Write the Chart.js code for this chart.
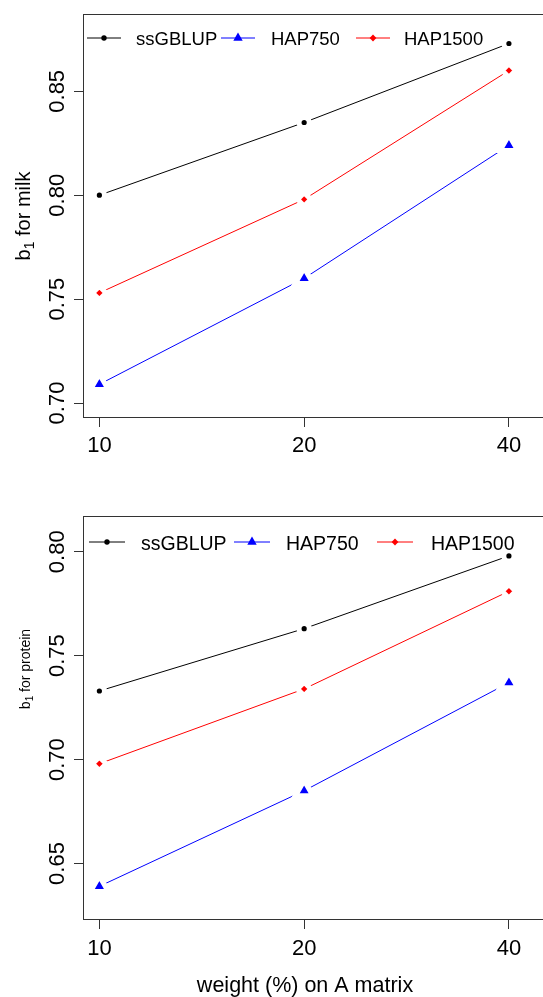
<!DOCTYPE html>
<html>
<head>
<meta charset="utf-8">
<script src="https://cdn.jsdelivr.net/npm/chart.js@4.4.1/dist/chart.umd.min.js"></script>
<style>
  html, body { margin: 0; padding: 0; background: #fff; }
  #wrap { position: relative; width: 543px; height: 997px; overflow: hidden; }
  #milkChart { position: absolute; left: 0; top: 0; }
  #proteinChart { position: absolute; left: 0; top: 490px; }
</style>
</head>
<body>
<div id="wrap">
  <canvas id="milkChart" width="560" height="490"></canvas>
  <canvas id="proteinChart" width="560" height="507"></canvas>
</div>
<script>
// data
const categories = ['10', '20', '40'];
const seriesNames = ['ssGBLUP', 'HAP750', 'HAP1500'];

const milkSsgblup = [0.800, 0.835, 0.873];
const milkHap750 = [0.709, 0.760, 0.824];
const milkHap1500 = [0.753, 0.798, 0.860];

const proteinSsgblup = [0.733, 0.763, 0.798];
const proteinHap750 = [0.639, 0.685, 0.737];
const proteinHap1500 = [0.698, 0.734, 0.781];

const milkTicks = [0.70, 0.75, 0.80, 0.85];
const proteinTicks = [0.65, 0.70, 0.75, 0.80];

const milkTitle = ['b', '1', ' for milk'];
const proteinTitle = ['b', '1', ' for protein'];
const xTitle = 'weight (%) on A matrix';

const FONT = '"Liberation Sans", Arial, Helvetica, sans-serif';
Chart.defaults.font.family = FONT;

// colour + marker per series (R: pch 20 / 17 / 18)
// the white border fakes the gap that type="b" leaves round each point
const styles = [
    { color: '#000000', pointStyle: 'circle', r: 5.15, bw: 5.1, legendR: 2.7 },
    { color: '#0000ff', pointStyle: 'triangle', r: 10.3, bw: 5.1, legendR: 5.4 },
    { color: '#ff0000', pointStyle: 'rectRot', r: 6.7, bw: 5.0, legendR: 3.4 }
];

function makeDatasets(values) {
    return values.map((vals, i) => ({
        label: seriesNames[i],
        data: vals.map((v, j) => ({ x: j, y: v })),
        borderColor: styles[i].color,
        borderWidth: 1,
        tension: 0,
        pointStyle: styles[i].pointStyle,
        pointRadius: styles[i].r,
        pointHoverRadius: styles[i].r,
        pointBackgroundColor: styles[i].color,
        pointBorderColor: '#ffffff',
        pointBorderWidth: styles[i].bw,
        legendR: styles[i].legendR
    }));
}

function drawMarker(ctx, style, r, x, y) {
    if (Chart.helpers && Chart.helpers.drawPoint) {
        Chart.helpers.drawPoint(ctx, { pointStyle: style, radius: r, borderWidth: 0, rotation: 0 }, x, y);
        return;
    }
    ctx.beginPath();
    ctx.arc(x, y, r, 0, Math.PI * 2);
    ctx.fill();
}

// box, rotated y labels, y title, R-style legend
const panelPlugin = {
    id: 'panel',
    beforeDatasetsDraw(chart) {
        const ctx = chart.ctx, a = chart.chartArea;
        ctx.save();
        ctx.strokeStyle = '#333';
        ctx.lineWidth = 1;
        ctx.strokeRect(Math.round(a.left) + 0.5, Math.round(a.top) + 0.5,
            Math.round(a.right - a.left), Math.round(a.bottom - a.top) - 1);
        ctx.restore();
    },
    afterDraw(chart, args, o) {
        const ctx = chart.ctx;
        const ys = chart.scales.y;
        ctx.save();
        ctx.fillStyle = '#000';

        // y tick labels, parallel to the axis
        ctx.font = '22px ' + FONT;
        ctx.textAlign = 'center';
        ctx.textBaseline = 'alphabetic';
        o.yTicks.forEach(v => {
            ctx.save();
            ctx.translate(64, ys.getPixelForValue(v));
            ctx.rotate(-Math.PI / 2);
            ctx.fillText(v.toFixed(2), 0, 0);
            ctx.restore();
        });

        // y title with subscript
        const fs = o.titleSize;
        const main = fs + 'px ' + FONT, small = Math.round(fs * 0.7) + 'px ' + FONT;
        ctx.font = main;
        const w0 = ctx.measureText(o.title[0]).width;
        const w2 = ctx.measureText(o.title[2]).width;
        ctx.font = small;
        const w1 = ctx.measureText(o.title[1]).width;
        const total = w0 + w1 + w2;
        ctx.save();
        ctx.translate(o.titleX, o.titleY);
        ctx.rotate(-Math.PI / 2);
        ctx.textAlign = 'left';
        let x = -total / 2;
        ctx.font = main;
        ctx.fillText(o.title[0], x, 0);
        x += w0;
        ctx.font = small;
        ctx.fillText(o.title[1], x, fs * 0.22);
        x += w1;
        ctx.font = main;
        ctx.fillText(o.title[2], x, 0);
        ctx.restore();

        // legend (line with marker in the middle, no frame)
        const lg = o.legend;
        ctx.font = lg.size + 'px ' + FONT;
        ctx.textAlign = 'left';
        chart.data.datasets.forEach((ds, i) => {
            const cx = lg.marks[i];
            ctx.strokeStyle = ds.borderColor;
            ctx.lineWidth = 1;
            ctx.beginPath();
            ctx.moveTo(cx - lg.half, lg.y);
            ctx.lineTo(cx + lg.half, lg.y);
            ctx.stroke();
            ctx.fillStyle = ds.borderColor;
            drawMarker(ctx, ds.pointStyle, ds.legendR, cx, lg.y);
            ctx.fillStyle = '#000';
            ctx.fillText(ds.label, lg.textX[i], lg.baseline);
        });

        // x title (bottom panel only)
        if (o.xTitle) {
            ctx.font = '21.5px ' + FONT;
            ctx.textAlign = 'center';
            ctx.fillText(o.xTitle, 305, o.xTitleY);
        }
        ctx.restore();
    }
};

function makeChart(id, values, yMin, yMax, yTicks, axisH, padTop, tickPad, panelOpts) {
    return new Chart(document.getElementById(id), {
        type: 'line',
        data: { datasets: makeDatasets(values) },
        options: {
            responsive: false,
            animation: false,
            events: [],
            layout: { autoPadding: false, padding: { top: padTop, left: 0, right: 5, bottom: 0 } },
            plugins: {
                legend: { display: false },
                tooltip: { enabled: false },
                panel: panelOpts
            },
            scales: {
                x: {
                    type: 'linear',
                    min: -0.08,
                    max: 2.225,
                    border: { display: false },
                    grid: { drawOnChartArea: false, drawTicks: true, tickLength: 9, color: '#333' },
                    afterBuildTicks: s => { s.ticks = categories.map((c, i) => ({ value: i })); },
                    afterFit: s => { s.height = axisH; },
                    ticks: {
                        autoSkip: false,
                        maxRotation: 0,
                        padding: tickPad,
                        color: '#000',
                        font: { size: 22 },
                        callback: v => categories[v]
                    }
                },
                y: {
                    min: yMin,
                    max: yMax,
                    border: { display: false },
                    grid: { drawOnChartArea: false, drawTicks: true, tickLength: 9, color: '#333' },
                    afterBuildTicks: s => { s.ticks = yTicks.map(v => ({ value: v })); },
                    afterFit: s => { s.width = 83; },
                    ticks: { display: false }
                }
            }
        },
        plugins: [panelPlugin]
    });
}

makeChart('milkChart', [milkSsgblup, milkHap750, milkHap1500],
    0.6928, 0.8872, milkTicks, 72, 14, 6, {
        yTicks: milkTicks,
        title: milkTitle, titleSize: 20, titleX: 30, titleY: 216,
        legend: { y: 38, half: 17, marks: [104, 238, 373], textX: [136, 271, 404], size: 18.5, baseline: 45 }
    });

makeChart('proteinChart', [proteinSsgblup, proteinHap750, proteinHap1500],
    0.6228, 0.8172, proteinTicks, 77, 26, 7, {
        yTicks: proteinTicks,
        title: proteinTitle, titleSize: 14, titleX: 30, titleY: 179,
        legend: { y: 52, half: 18, marks: [107, 252, 395], textX: [141, 286, 431], size: 19.5, baseline: 60 },
        xTitle: xTitle, xTitleY: 502
    });
</script>
</body>
</html>
